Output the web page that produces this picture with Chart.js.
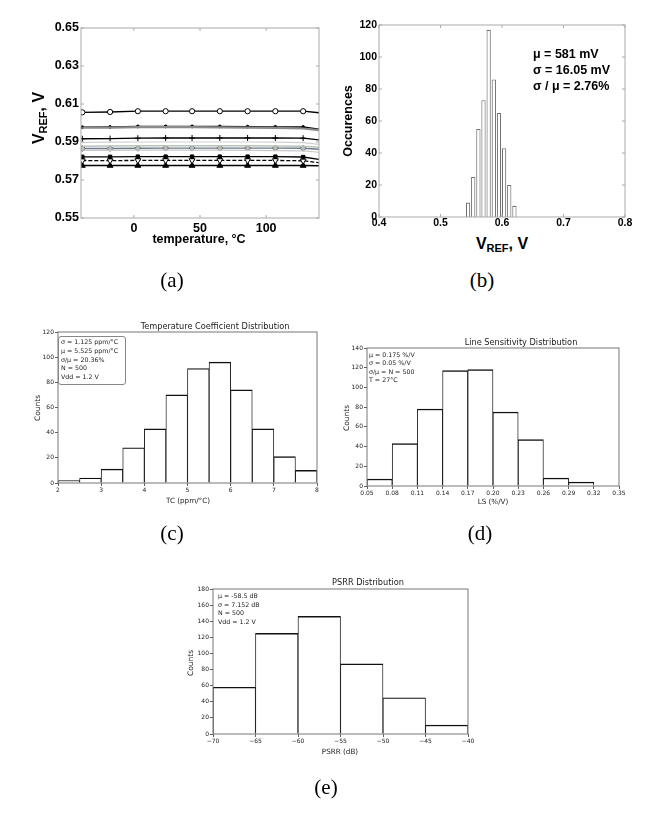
<!DOCTYPE html>
<html>
<head>
<meta charset="utf-8">
<script src="https://cdn.jsdelivr.net/npm/chart.js@4.4.1/dist/chart.umd.min.js"></script>
<style>
body { margin: 0; background: #fff; width: 651px; height: 820px; position: relative; overflow: hidden; }
canvas, .t { position: absolute; }
.t { white-space: nowrap; line-height: 1; color: #000; }
.c { transform: translate(-50%, -50%); }
.rot { transform: translate(-50%, -50%) rotate(-90deg); }
.mt { font-family: "Liberation Sans", Arial, sans-serif; font-weight: bold; }
.dj { font-family: "DejaVu Sans", sans-serif; color: #222; }
.cap { font-family: "Liberation Serif", "Times New Roman", serif; font-size: 21px; }
.vref { font-size: 16px; }
.vref sub { font-size: 11px; vertical-align: -0.3em; line-height: 0; }
</style>
</head>
<body>

<canvas id="chartA"></canvas>
<canvas id="chartB"></canvas>
<canvas id="chartC"></canvas>
<canvas id="chartD"></canvas>
<canvas id="chartE"></canvas>

<!-- (a) labels -->
<div class="t mt rot vref" style="left:39px;top:118px">V<sub>REF</sub>, V</div>
<div class="t mt c" style="left:199px;top:239px;font-size:12.5px">temperature, °C</div>
<div class="t cap c" style="left:172px;top:280px">(a)</div>

<!-- (b) labels -->
<div class="t mt rot" style="left:348px;top:121px;font-size:12.5px">Occurences</div>
<div class="t mt c vref" style="left:502px;top:244px">V<sub>REF</sub>, V</div>
<div class="t mt" style="left:533px;top:46px;font-size:12.5px;line-height:16px">μ = 581 mV<br>σ = 16.05 mV<br>σ / μ = 2.76%</div>
<div class="t cap c" style="left:482px;top:280px">(b)</div>

<!-- (c) labels -->
<div class="t dj c" style="left:215px;top:326px;font-size:8.2px">Temperature Coefficient Distribution</div>
<div class="t dj c" style="left:188px;top:501px;font-size:7.2px">TC (ppm/°C)</div>
<div class="t dj rot" style="left:38px;top:408px;font-size:7.5px">Counts</div>
<div class="t dj" style="left:58px;top:336px;width:64px;height:46px;border:1px solid #888;border-radius:3px;padding:1px 0 0 2px;font-size:6.3px;line-height:8.8px">σ = 1.125 ppm/°C<br>μ = 5.525 ppm/°C<br>σ/μ = 20.36%<br>N = 500<br>Vdd = 1.2 V</div>
<div class="t cap c" style="left:172px;top:533px">(c)</div>

<!-- (d) labels -->
<div class="t dj c" style="left:521px;top:342px;font-size:8.2px">Line Sensitivity Distribution</div>
<div class="t dj c" style="left:493px;top:502px;font-size:7.2px">LS (%/V)</div>
<div class="t dj rot" style="left:347px;top:418px;font-size:7.5px">Counts</div>
<div class="t dj" style="left:369px;top:351px;font-size:6.3px;line-height:8.3px">μ = 0.175 %/V<br>σ = 0.05 %/V<br>σ/μ = N = 500<br>T = 27°C</div>
<div class="t cap c" style="left:480px;top:533px">(d)</div>

<!-- (e) labels -->
<div class="t dj c" style="left:368px;top:582px;font-size:8.2px">PSRR Distribution</div>
<div class="t dj c" style="left:340px;top:752px;font-size:7.2px">PSRR (dB)</div>
<div class="t dj rot" style="left:191px;top:663px;font-size:7.5px">Counts</div>
<div class="t dj" style="left:218px;top:592px;font-size:6.3px;line-height:8.5px">μ = -58.5 dB<br>σ = 7.152 dB<br>N = 500<br>Vdd = 1.2 V</div>
<div class="t cap c" style="left:326px;top:787px">(e)</div>

<script>
// (a) VREF versus temperature, one array per corner/sample
const tempC = [-39, -18, 3, 24, 44, 65, 86, 107, 128, 140];
const vrefCircle = [0.6056, 0.6058, 0.6062, 0.6062, 0.6062, 0.6062, 0.6062, 0.6062, 0.6062, 0.6054];
const vrefDot    = [0.5978, 0.5979, 0.5982, 0.5982, 0.5982, 0.5982, 0.5981, 0.5980, 0.5979, 0.5967];
const vrefGrey1  = [0.5975, 0.5976, 0.5978, 0.5978, 0.5978, 0.5977, 0.5976, 0.5974, 0.5971, 0.5962];
const vrefPlus   = [0.5917, 0.5918, 0.5920, 0.5921, 0.5921, 0.5921, 0.5921, 0.5921, 0.5920, 0.5911];
const vrefGrey2  = [0.5898, 0.5899, 0.5900, 0.5900, 0.5900, 0.5900, 0.5900, 0.5899, 0.5897, 0.5888];
const vrefGrey3  = [0.5878, 0.5879, 0.5880, 0.5880, 0.5880, 0.5880, 0.5880, 0.5879, 0.5878, 0.5872];
const vrefDiam   = [0.5866, 0.5866, 0.5867, 0.5868, 0.5868, 0.5868, 0.5868, 0.5868, 0.5867, 0.5862];
const vrefGrey4  = [0.5856, 0.5856, 0.5857, 0.5857, 0.5857, 0.5857, 0.5856, 0.5855, 0.5853, 0.5846];
const vrefSquare = [0.5822, 0.5822, 0.5823, 0.5823, 0.5823, 0.5823, 0.5823, 0.5823, 0.5821, 0.5808];
const vrefTriDn  = [0.5802, 0.5802, 0.5803, 0.5803, 0.5803, 0.5803, 0.5803, 0.5803, 0.5801, 0.5791];
const vrefTriUp  = [0.5776, 0.5776, 0.5776, 0.5776, 0.5776, 0.5776, 0.5776, 0.5776, 0.5776, 0.5775];
const tempTicks = [0, 50, 100];
const vrefTicks = [0.55, 0.57, 0.59, 0.61, 0.63, 0.65];

// (b) Monte Carlo histogram of VREF (bin centres in V)
const mcBinV  = [0.5448, 0.5532, 0.5616, 0.5699, 0.5783, 0.5867, 0.5951, 0.6034, 0.6118, 0.6202];
const mcCount = [9, 25, 55, 73, 117, 86, 65, 43, 20, 7];
const mcTicksX = [0.4, 0.5, 0.6, 0.7, 0.8];
const mcTicksY = [0, 20, 40, 60, 80, 100, 120];

// (c) temperature coefficient histogram
const tcEdges = [2, 2.5, 3, 3.5, 4, 4.5, 5, 5.5, 6, 6.5, 7, 7.5, 8];
const tcCount = [2, 4, 11, 28, 43, 70, 91, 96, 74, 43, 21, 10];
const tcTicksX = [2, 3, 4, 5, 6, 7, 8];
const tcTicksY = [0, 20, 40, 60, 80, 100, 120];

// (d) line sensitivity histogram
const lsEdges = [0.05, 0.08, 0.11, 0.14, 0.17, 0.20, 0.23, 0.26, 0.29, 0.32, 0.35];
const lsCount = [7, 43, 78, 117, 118, 75, 47, 8, 4, 0];
const lsTicksX = [0.05, 0.08, 0.11, 0.14, 0.17, 0.20, 0.23, 0.26, 0.29, 0.32, 0.35];
const lsTicksY = [0, 20, 40, 60, 80, 100, 120, 140];

// (e) PSRR histogram
const psrrEdges = [-70, -65, -60, -55, -50, -45, -40];
const psrrCount = [58, 125, 146, 87, 45, 11];
const psrrTicksX = [-70, -65, -60, -55, -50, -45, -40];
const psrrTicksY = [0, 20, 40, 60, 80, 100, 120, 140, 160, 180];

Chart.defaults.animation = false;

// box around the plot, optionally with matlab style inward ticks
const framePlugin = {
    id: 'frame',
    afterDatasetsDraw(chart, args, o) {
        const { ctx, chartArea: a, scales } = chart;
        ctx.save();
        ctx.strokeStyle = o.color;
        ctx.lineWidth = o.width;
        ctx.strokeRect(a.left, a.top, a.right - a.left, a.bottom - a.top);
        if (o.inner) {
            ctx.beginPath();
            scales.x.ticks.forEach(t => {
                const px = scales.x.getPixelForValue(t.value);
                ctx.moveTo(px, a.bottom); ctx.lineTo(px, a.bottom - o.inner);
                ctx.moveTo(px, a.top); ctx.lineTo(px, a.top + o.inner);
            });
            scales.y.ticks.forEach(t => {
                const py = scales.y.getPixelForValue(t.value);
                ctx.moveTo(a.left, py); ctx.lineTo(a.left + o.inner, py);
                ctx.moveTo(a.right, py); ctx.lineTo(a.right - o.inner, py);
            });
            ctx.stroke();
        }
        ctx.restore();
    }
};

// size the canvas so the chart area lands on the plot box
function placeCanvas(id, plot, m) {
    const c = document.getElementById(id);
    const w = m.l + plot.r - plot.l + m.r;
    const h = m.t + plot.b - plot.t + m.b;
    c.width = w;
    c.height = h;
    c.style.left = (plot.l - m.l) + 'px';
    c.style.top = (plot.t - m.t) + 'px';
    c.style.width = w + 'px';
    c.style.height = h + 'px';
    return c;
}

function fixedTicks(values) {
    return s => { s.ticks = values.map(v => ({ value: v })); };
}

function makeScales(cfg, m) {
    return {
        x: {
            type: 'linear', min: cfg.xMin, max: cfg.xMax, offset: false,
            border: { display: false },
            grid: cfg.grid,
            afterBuildTicks: fixedTicks(cfg.xTicks),
            afterFit: s => { s.height = m.b; },
            ticks: { font: cfg.font, color: cfg.tickColor, padding: cfg.xPad, maxRotation: 0, autoSkip: false, callback: cfg.xFmt }
        },
        y: {
            type: 'linear', min: cfg.yMin, max: cfg.yMax,
            border: { display: false },
            grid: cfg.grid,
            afterBuildTicks: fixedTicks(cfg.yTicks),
            afterFit: s => { s.width = m.l; },
            ticks: { font: cfg.font, color: cfg.tickColor, padding: cfg.yPad, autoSkip: false, callback: cfg.yFmt }
        }
    };
}

function baseOptions(m, scales, frame) {
    return {
        responsive: false,
        layout: { padding: { left: 0, top: m.t, right: m.r, bottom: 0 } },
        plugins: { legend: { display: false }, tooltip: { enabled: false }, frame: frame },
        scales: scales
    };
}

// ---------- (a) ----------
const mA = { l: 45, t: 10, r: 12, b: 20 };
const cA = placeCanvas('chartA', { l: 81, t: 28, r: 319, b: 218 }, mA);
const matlabFont = { family: 'Liberation Sans', size: 12.5, weight: 'bold' };
const noGrid = { display: false, drawTicks: false };

function vrefLine(values, style) {
    const last = values.length - 1;
    return Object.assign({
        data: tempC.map((t, i) => ({ x: t, y: values[i] })),
        borderColor: '#000',
        borderWidth: 1.3,
        pointBorderColor: '#000',
        pointBorderWidth: 1,
        pointBackgroundColor: '#fff',
        pointStyle: 'circle',
        pointRadius: ctx => (ctx.dataIndex === last ? 0 : style.r || 0),
        tension: 0
    }, style);
}

new Chart(cA, {
    type: 'line',
    data: {
        datasets: [
            vrefLine(vrefGrey1, { borderColor: '#8a8a8a', borderWidth: 2.2 }),
            vrefLine(vrefGrey2, { borderColor: '#d0d0d0', borderWidth: 1.2 }),
            vrefLine(vrefGrey3, { borderColor: '#b9c4b9', borderWidth: 1.5 }),
            vrefLine(vrefGrey4, { borderColor: '#c8c8c8', borderWidth: 1.2 }),
            vrefLine(vrefCircle, { r: 2.6 }),
            vrefLine(vrefDot, { r: 1.4, pointBackgroundColor: '#000' }),
            vrefLine(vrefPlus, { r: 3, pointStyle: 'cross' }),
            vrefLine(vrefDiam, { r: 3, pointStyle: 'rectRot', borderColor: '#6f7a8c', borderWidth: 1.4, pointBorderColor: '#666', pointBackgroundColor: '#bbb' }),
            vrefLine(vrefSquare, { r: 2.4, pointStyle: 'rect', pointBackgroundColor: '#000' }),
            vrefLine(vrefTriDn, { r: 3.4, pointStyle: 'triangle', pointRotation: 180, borderDash: [4, 2] }),
            vrefLine(vrefTriUp, { r: 3.4, pointStyle: 'triangle', pointBackgroundColor: '#000', borderWidth: 1.6 })
        ]
    },
    options: baseOptions(mA, makeScales({
        xMin: -40, xMax: 140, yMin: 0.55, yMax: 0.65,
        xTicks: tempTicks, yTicks: vrefTicks,
        font: matlabFont, tickColor: '#000', grid: noGrid, xPad: 3, yPad: 2,
        xFmt: v => String(v), yFmt: v => v.toFixed(2)
    }, mA), { color: '#aaa', width: 1, inner: 3 }),
    plugins: [framePlugin]
});

// ---------- (b) ----------
const mB = { l: 28, t: 10, r: 12, b: 18 };
const cB = placeCanvas('chartB', { l: 379, t: 25, r: 625, b: 217 }, mB);
new Chart(cB, {
    type: 'bar',
    data: {
        datasets: [{
            data: mcBinV.map((v, i) => ({ x: v, y: mcCount[i] })),
            backgroundColor: '#fff',
            borderColor: '#6e6e6e',
            borderWidth: 1.1,
            categoryPercentage: 1,
            barPercentage: 0.84
        }]
    },
    options: baseOptions(mB, makeScales({
        xMin: 0.4, xMax: 0.8, yMin: 0, yMax: 120,
        xTicks: mcTicksX, yTicks: mcTicksY,
        font: { family: 'Liberation Sans', size: 10.5, weight: 'bold' }, tickColor: '#000',
        grid: noGrid, xPad: 0, yPad: 2,
        xFmt: v => v.toFixed(1), yFmt: v => String(v)
    }, mB), { color: '#aaa', width: 1, inner: 3 }),
    plugins: [framePlugin]
});

// ---------- (c), (d), (e) matplotlib style histograms ----------
const mplFont = { family: 'DejaVu Sans', size: 6 };
const mplGrid = { display: true, drawOnChartArea: false, drawTicks: true, tickLength: 3, color: '#333', lineWidth: 0.8, offset: false };

function histChart(id, plot, m, edges, counts, cfg) {
    const c = placeCanvas(id, plot, m);
    const bins = edges.slice(0, -1).map((e, i) => ({ x: (e + edges[i + 1]) / 2, y: counts[i] }));
    return new Chart(c, {
        type: 'bar',
        data: {
            datasets: [{
                data: bins,
                backgroundColor: '#fff',
                borderColor: '#111',
                borderWidth: { top: 1.4, left: 0.9, right: 0.9, bottom: 0 },
                categoryPercentage: 1,
                barPercentage: 1
            }]
        },
        options: baseOptions(m, makeScales(Object.assign({
            xMin: edges[0], xMax: edges[edges.length - 1], yMin: 0,
            font: mplFont, tickColor: '#222', grid: mplGrid, xPad: 1, yPad: 1,
            yFmt: v => String(v)
        }, cfg), m), { color: '#777', width: 1, inner: 0 }),
        plugins: [framePlugin]
    });
}

histChart('chartC', { l: 58, t: 332, r: 317, b: 483 }, { l: 20, t: 8, r: 8, b: 14 },
    tcEdges, tcCount, { yMax: 120, xTicks: tcTicksX, yTicks: tcTicksY, xFmt: v => String(v) });

histChart('chartD', { l: 367, t: 348, r: 619, b: 486 }, { l: 20, t: 8, r: 10, b: 14 },
    lsEdges, lsCount, { yMax: 140, xTicks: lsTicksX, yTicks: lsTicksY, xFmt: v => v.toFixed(2) });

histChart('chartE', { l: 213, t: 589, r: 468, b: 734 }, { l: 20, t: 8, r: 10, b: 14 },
    psrrEdges, psrrCount, { yMax: 180, xTicks: psrrTicksX, yTicks: psrrTicksY, xFmt: v => String(v).replace('-', '\u2212') });
</script>
</body>
</html>
